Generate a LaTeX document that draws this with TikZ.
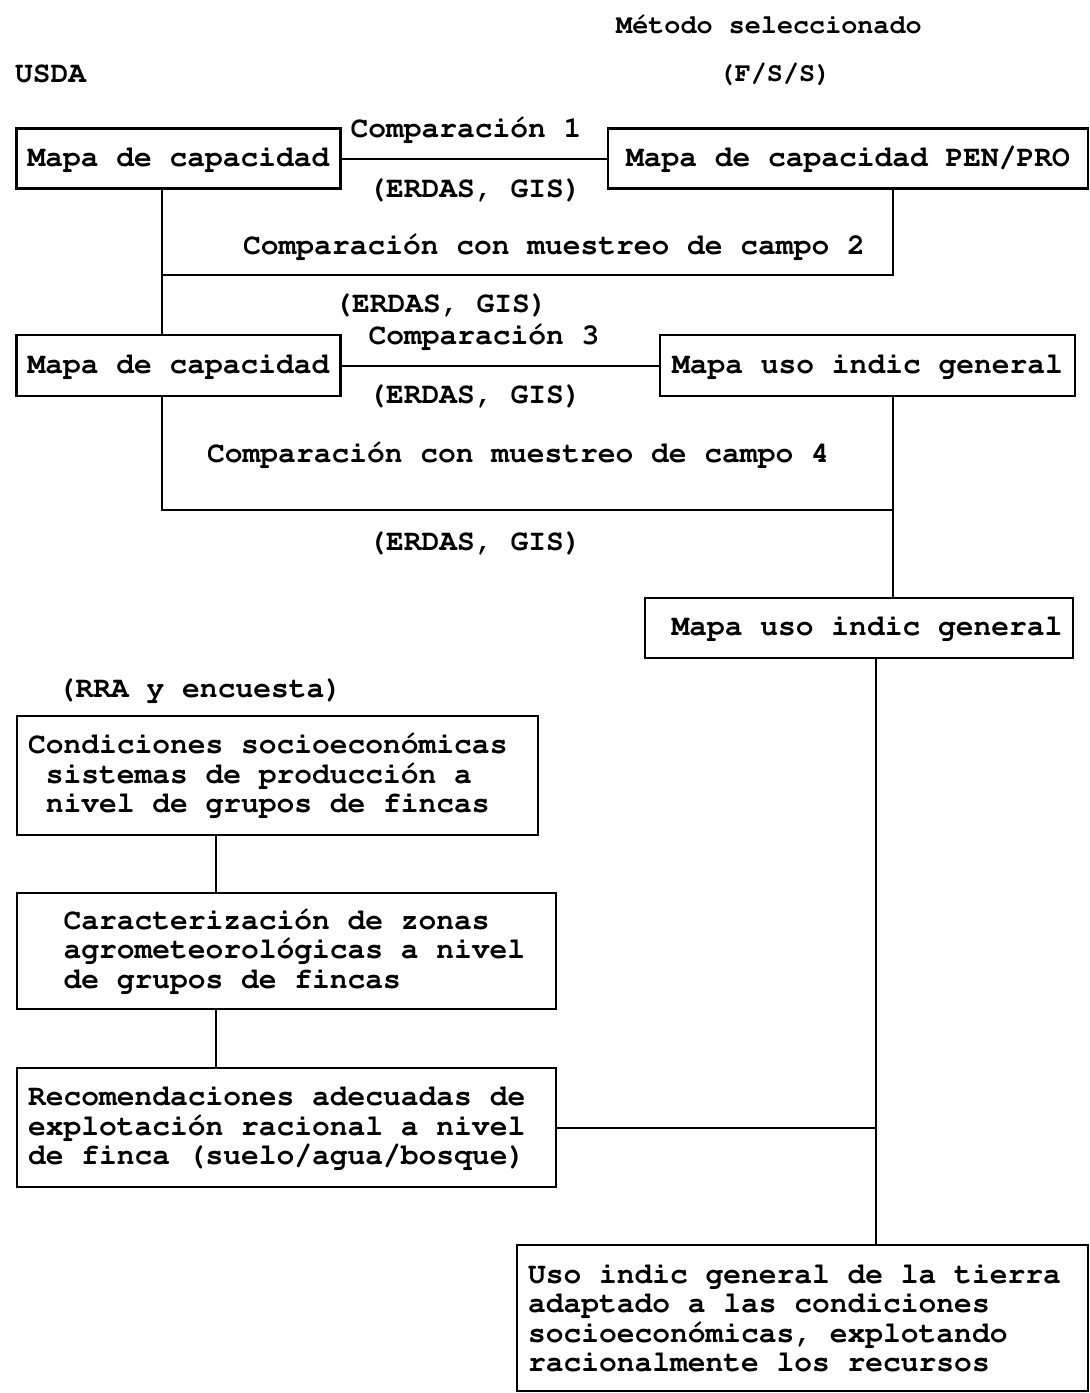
\documentclass[tikz,border=0pt]{standalone}
\usepackage[T1]{fontenc}
\usepackage{courier}
\renewcommand{\familydefault}{\ttdefault}
\newcommand{\chsp}{\hspace*{0.6em}}
\newcommand{\monosp}{\spaceskip=0.6em\xspaceskip=0.6em\relax}

\begin{document}
\begin{tikzpicture}[x=0.5pt, y=-0.5pt,
    every node/.style={font=\fontsize{14.8}{14.8}\selectfont\bfseries},
    head/.style={font=\fontsize{13.4}{14}\selectfont\bfseries},
    box/.style={draw, line width=1.1pt, inner xsep=5.5pt, inner ysep=0pt},
    tbox/.style={box, align=left, execute at begin node=\monosp},
    wire/.style={line width=1pt}]
    \useasboundingbox (0,0) rectangle (1090,1393);
    % titles
    \node[head] (met) at (769,25) {M\'etodo seleccionado};
    \node[anchor=west] (usda) at (8,74) {USDA};
    \node[head] (fss) at (775,74) {(F/S/S)};
    % maps
    \node[box, minimum width=161.5pt, minimum height=30pt] (cap1) at (178.5,158.5) {Mapa de capacidad};
    \node[box, minimum width=240pt, minimum height=30pt] (pen) at (848,158.5) {Mapa de capacidad PEN/PRO};
    \node[box, minimum width=161.5pt, minimum height=30.5pt] (cap2) at (178.5,365.5) {Mapa de capacidad};
    \node[box, minimum width=207.5pt, minimum height=30.5pt] (uso1) at (867.5,365.5) {Mapa uso indic general};
    \node[box, minimum width=214pt, minimum height=30pt] (uso2) at (859,628) {\hspace*{8pt}Mapa uso indic general};
    % farm level
    \node[tbox, text width=249.5pt, minimum height=59.5pt] (soc) at (277.5,775.5)
        {Condiciones socioecon\'omicas\\\chsp sistemas de producci\'on a\\\chsp nivel de grupos de fincas};
    \node[tbox, text width=258.5pt, minimum height=58pt] (agro) at (286.5,951)
        {\chsp\chsp Caracterizaci\'on de zonas\\\chsp\chsp agrometeorol\'ogicas a nivel\\\chsp\chsp de grupos de fincas};
    \node[tbox, text width=258.5pt, minimum height=59.5pt] (rec) at (286.5,1127.5)
        {Recomendaciones adecuadas de\\explotaci\'on racional a nivel\\de finca (suelo/agua/bosque)};
    \node[tbox, text width=274.5pt, minimum height=73pt] (tierra) at (802.5,1318)
        {Uso indic general de la tierra\\adaptado a las condiciones\\socioecon\'omicas, explotando\\racionalmente los recursos};
    % labels
    \node (c1) at (466,130) {Comparaci\'on 1};
    \node (e1) at (475,190) {(ERDAS, GIS)};
    \node (c2) at (554,247) {Comparaci\'on con muestreo de campo 2};
    \node (e2) at (441,305) {(ERDAS, GIS)};
    \node (c3) at (484,337) {Comparaci\'on 3};
    \node (e3) at (475,396) {(ERDAS, GIS)};
    \node (c4) at (518,455) {Comparaci\'on con muestreo de campo 4};
    \node (e4) at (475,543) {(ERDAS, GIS)};
    \node (rra) at (200,690) {(RRA y encuesta)};
    % connectors
    \coordinate (lx) at (162,0);
    \coordinate (rx) at (893,0);
    \coordinate (bx) at (876,0);
    \coordinate (cx) at (216,0);
    \coordinate (j2) at (162,275);
    \coordinate (j4) at (893,510);
    \draw[wire] (cap1) -- (pen);
    \draw[wire] (cap1.south -| lx) -- (cap2.north -| lx);
    \draw[wire] (pen.south -| rx) |- (j2);
    \draw[wire] (cap2) -- (uso1);
    \draw[wire] (cap2.south -| lx) |- (j4);
    \draw[wire] (uso1.south -| rx) -- (uso2.north -| rx);
    \draw[wire] (uso2.south -| bx) -- (tierra.north -| bx);
    \draw[wire] (soc.south -| cx) -- (agro.north -| cx);
    \draw[wire] (agro.south -| cx) -- (rec.north -| cx);
    \draw[wire] (rec.east) -- (rec.east -| bx);
\end{tikzpicture}
\end{document}
